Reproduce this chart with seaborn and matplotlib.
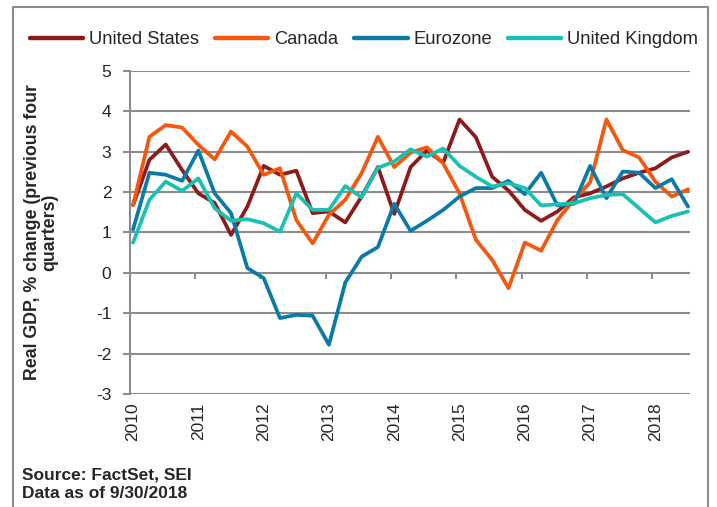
import numpy as np
import pandas as pd
import matplotlib
matplotlib.use("Agg")
import matplotlib.pyplot as plt
import seaborn as sns
from matplotlib.lines import Line2D

# ---- data (quarterly, 2010Q1 .. 2018Q3) ----
quarters = [f"{y}Q{q}" for y in range(2010, 2019) for q in range(1, 5)][:35]
year_labels = ["2010", "2011", "2012", "2013", "2014", "2015", "2016", "2017", "2018"]

us = [1.68, 2.80, 3.18, 2.55, 1.97, 1.73, 0.94, 1.64, 2.65, 2.43, 2.53, 1.48,
      1.52, 1.25, 1.89, 2.62, 1.46, 2.62, 3.03, 2.73, 3.80, 3.36, 2.38, 2.04,
      1.56, 1.29, 1.52, 1.87, 1.97, 2.14, 2.34, 2.48, 2.59, 2.86, 3.00]
canada = [1.68, 3.37, 3.66, 3.60, 3.17, 2.81, 3.50, 3.13, 2.43, 2.59, 1.31, 0.73,
          1.44, 1.81, 2.47, 3.37, 2.62, 2.98, 3.11, 2.71, 1.97, 0.82, 0.32, -0.38,
          0.75, 0.55, 1.31, 1.81, 2.24, 3.80, 3.04, 2.86, 2.26, 1.89, 2.07]
eurozone = [1.08, 2.48, 2.43, 2.28, 3.03, 1.97, 1.48, 0.12, -0.13, -1.12, -1.04, -1.06,
            -1.78, -0.24, 0.40, 0.64, 1.71, 1.04, 1.29, 1.56, 1.89, 2.10, 2.10, 2.28,
            1.95, 2.48, 1.67, 1.71, 2.65, 1.85, 2.51, 2.48, 2.10, 2.32, 1.64]
uk = [0.75, 1.81, 2.26, 2.03, 2.34, 1.60, 1.29, 1.33, 1.23, 1.02, 1.97, 1.56,
      1.56, 2.15, 1.87, 2.60, 2.76, 3.06, 2.88, 3.08, 2.65, 2.38, 2.14, 2.22,
      2.10, 1.67, 1.70, 1.72, 1.85, 1.93, 1.95, 1.60, 1.25, 1.41, 1.52]

series_names = ["United States", "Canada", "Eurozone", "United Kingdom"]
colors = ["#8E1B1B", "#F5570F", "#0B7BA6", "#1CC0B2"]

df = pd.DataFrame({"idx": np.arange(len(quarters)), "quarter": quarters,
                   "United States": us, "Canada": canada,
                   "Eurozone": eurozone, "United Kingdom": uk})
long = df.melt(id_vars=["idx", "quarter"], value_vars=series_names,
               var_name="series", value_name="value")

sns.set_theme(style="white")
plt.rcParams["font.family"] = ["Liberation Sans", "DejaVu Sans"]

fig = plt.figure(figsize=(7.17, 5.07), dpi=100)
ax = fig.add_axes([129.5 / 717, 1 - 394 / 507, (690 - 129.5) / 717, (394 - 71) / 507])

grid_c = "#8C8C8C"
for yv in range(-3, 6):
    ax.axhline(yv, color=grid_c, lw=1.5, zorder=0)

sns.lineplot(data=long, x="idx", y="value", hue="series", hue_order=series_names,
             palette=colors, linewidth=2.7, ax=ax, legend=False, zorder=3)

ax.set_xlim(-0.22, 34.12)
ax.set_ylim(-3, 5)
ax.set_yticks(range(-3, 6))
ax.set_yticklabels([str(v) for v in range(-3, 6)], fontsize=12.5)
ax.set_xticks([4 * k for k in range(9)])
ax.set_xticklabels(year_labels, rotation=90, fontsize=12.5)
ax.tick_params(axis="x", length=0, pad=6)
ax.tick_params(axis="y", length=5, width=1.5, color=grid_c, direction="out", pad=8, left=True)
for s in ["top", "right", "bottom"]:
    ax.spines[s].set_visible(False)
ax.spines["left"].set_color(grid_c)
ax.spines["left"].set_linewidth(1.5)
ax.set_xlabel("")
ax.set_ylabel("Real GDP, % change (previous four\nquarters)", fontsize=12.8,
              fontweight="bold", labelpad=27, linespacing=1.05)

# category tick marks on the zero line
sec = ax.secondary_xaxis(3 / 8)
sec.set_xticks([4 * k - 0.2 for k in range(1, 9)])
sec.set_xticklabels([])
sec.tick_params(length=4, width=1.5, color=grid_c, direction="out")
sec.spines["bottom"].set_visible(False)
sec.spines["top"].set_visible(False)

handles = [Line2D([0], [0], color=c, lw=3.2) for c in colors]
fig.legend(handles, series_names, loc="center", bbox_to_anchor=(364 / 717, 1 - 40 / 507),
           ncol=4, frameon=False, fontsize=13.2, handlelength=2.9, handletextpad=0.3,
           columnspacing=0.9)

fig.text(22 / 717, 1 - 475 / 507, "Source: FactSet, SEI", fontsize=12.5,
         fontweight="bold", va="center", ha="left")
fig.text(22 / 717, 1 - 494 / 507, "Data as of 9/30/2018", fontsize=12.5,
         fontweight="bold", va="center", ha="left")

# outer frame
frame_c = "#8C8C8C"
fig.add_artist(Line2D([13 / 717, 13 / 717], [0, 1 - 7 / 507], color=frame_c, lw=1.5,
                      transform=fig.transFigure))
fig.add_artist(Line2D([13 / 717, 708 / 717], [1 - 7 / 507, 1 - 7 / 507], color=frame_c,
                      lw=1.5, transform=fig.transFigure))
fig.add_artist(Line2D([708 / 717, 708 / 717], [0, 1 - 7 / 507], color=frame_c, lw=1.5,
                      transform=fig.transFigure))

fig.savefig("out.png", dpi=100)
